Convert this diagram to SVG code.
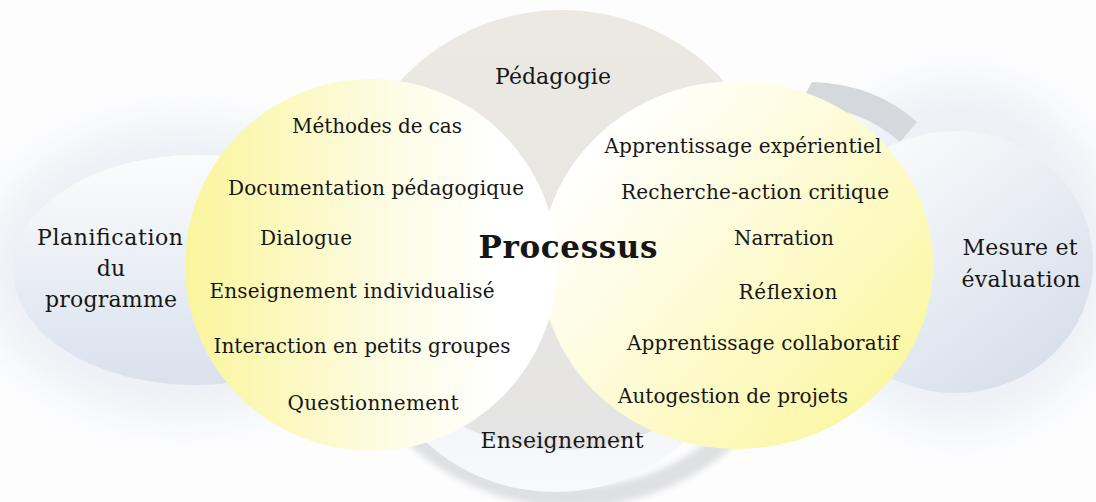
<svg xmlns="http://www.w3.org/2000/svg" width="1096" height="502" viewBox="0 0 1096 502">
<style>
.t{font-family:"DejaVu Serif","Liberation Serif",serif;fill:#161616;text-anchor:middle}
.i{font-size:20px}
.h{font-size:22px}
.p{font-size:31px;font-weight:bold}
</style>
<defs>
<linearGradient id="gTop" x1="0" y1="0" x2="0" y2="1"><stop offset="0" stop-color="#ece9e2"/><stop offset="1" stop-color="#e4e4e4"/></linearGradient>
<linearGradient id="gBot" x1="0" y1="0" x2="0" y2="1"><stop offset="0" stop-color="#e2e7f1"/><stop offset="1" stop-color="#f8f9fc"/></linearGradient>
<linearGradient id="gLE" x1="0" y1="0" x2="0" y2="1"><stop offset="0" stop-color="#fbfcfd"/><stop offset="1" stop-color="#d9e1ed"/></linearGradient>
<linearGradient id="gRE" x1="0" y1="0" x2="0.8" y2="1"><stop offset="0" stop-color="#ffffff"/><stop offset="1" stop-color="#d6deea"/></linearGradient>
<linearGradient id="gYL" x1="0" y1="0" x2="1" y2="0"><stop offset="0" stop-color="#faf59c"/><stop offset="0.55" stop-color="#fdfce4"/><stop offset="0.85" stop-color="#ffffff"/></linearGradient>
<linearGradient id="gYR" x1="0.15" y1="0.15" x2="1" y2="0.85"><stop offset="0" stop-color="#ffffff"/><stop offset="1" stop-color="#fbf69c"/></linearGradient>
<filter id="blurBig" x="-50%" y="-50%" width="200%" height="200%"><feGaussianBlur stdDeviation="22"/></filter>
<filter id="blurSm" x="-20%" y="-20%" width="140%" height="140%"><feGaussianBlur stdDeviation="3"/></filter>
</defs>
<rect width="1096" height="502" fill="#fdfdfe"/>
<g id="haze">
<ellipse cx="185" cy="270" rx="205" ry="150" fill="#e2e8f1" opacity="0.6" filter="url(#blurBig)"/>
<ellipse cx="960" cy="255" rx="160" ry="175" fill="#e2e8f1" opacity="0.6" filter="url(#blurBig)"/>
</g>
<g id="connectors">
<path d="M 360.6 357.5 A 225 212 0 0 0 783.4 357.5" fill="none" stroke="#dfe0e2" stroke-width="20" filter="url(#blurSm)"/>
<path d="M 812 82 Q 875 84 917 122 L 900 142 Q 862 108 800 104 Z" fill="#d5d8dc"/>
</g>
<g id="node-enseignement">
<circle cx="555" cy="300" r="192" fill="url(#gBot)"/>
</g>
<g id="node-pedagogie">
<circle cx="562" cy="230" r="220" fill="url(#gTop)"/>
</g>
<g id="node-planification">
<ellipse cx="195" cy="270" rx="182" ry="115" fill="url(#gLE)"/>
<text class="t h"><tspan x="110" y="245" textLength="146">Planification</tspan><tspan x="111" y="276">du</tspan><tspan x="111" y="307" textLength="132">programme</tspan></text>
</g>
<g id="node-mesure">
<ellipse cx="955" cy="262" rx="138" ry="131" fill="url(#gRE)"/>
<text class="t h"><tspan x="1020" y="255" textLength="115">Mesure et</tspan><tspan x="1021" y="287" textLength="119">évaluation</tspan></text>
</g>
<g id="node-right">
<ellipse cx="737" cy="265" rx="196" ry="184" fill="url(#gYR)"/>
<text class="t i" x="743" y="153" textLength="277">Apprentissage expérientiel</text>
<text class="t i" x="755" y="199" textLength="268">Recherche-action critique</text>
<text class="t i" x="784" y="245" textLength="100">Narration</text>
<text class="t i" x="788" y="299" textLength="99">Réflexion</text>
<text class="t i" x="763" y="350" textLength="272">Apprentissage collaboratif</text>
<text class="t i" x="733" y="403" textLength="230">Autogestion de projets</text>
</g>
<g id="node-left">
<circle cx="371" cy="265" r="186" fill="url(#gYL)"/>
<text class="t i" x="377" y="133" textLength="170">Méthodes de cas</text>
<text class="t i" x="376" y="195" textLength="296">Documentation pédagogique</text>
<text class="t i" x="306" y="245" textLength="92">Dialogue</text>
<text class="t i" x="352" y="298" textLength="285">Enseignement individualisé</text>
<text class="t i" x="362" y="353" textLength="297">Interaction en petits groupes</text>
<text class="t i" x="373" y="410" textLength="171">Questionnement</text>
</g>
<g id="node-processus">
<text class="t p" x="568" y="258" textLength="179">Processus</text>
</g>
<g id="node-pedagogie-label">
<text class="t h" x="553" y="84" textLength="116">Pédagogie</text>
</g>
<g id="node-enseignement-label">
<text class="t h" x="562" y="448" textLength="163">Enseignement</text>
</g>
</svg>
